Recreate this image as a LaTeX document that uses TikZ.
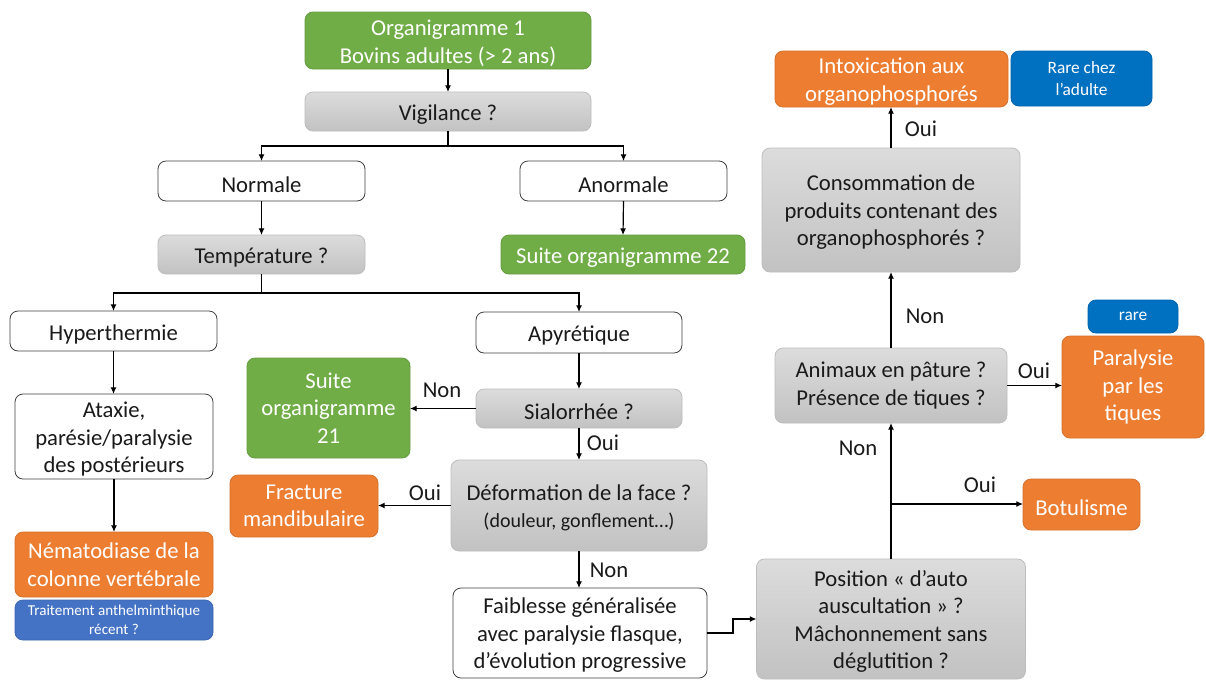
\documentclass[tikz,border=0pt]{standalone}
\usepackage{fontspec}
\setmainfont{Carlito}
\usetikzlibrary{arrows.meta}

\definecolor{cvert}{HTML}{70AD47}
\definecolor{corange}{HTML}{ED7D31}
\definecolor{cbleu}{HTML}{4472C4}
\definecolor{cbleuvif}{HTML}{0070C0}
\definecolor{gTop}{HTML}{DCDCDC}
\definecolor{gBot}{HTML}{C2C2C2}
\definecolor{gBrd}{HTML}{BDBDBD}
\definecolor{wBrd}{HTML}{404040}
\definecolor{txt}{HTML}{1A1A1A}

\newcommand\mainsz{\fontsize{17}{20.6}\selectfont}
\newcommand\smallsz{\fontsize{15}{18}\selectfont}
\newcommand\tinysz{\fontsize{11.3}{14}\selectfont}
\newcommand\notesz{\fontsize{13}{16}\selectfont}
% taller first line, so that the text block sits a little lower in its box
\newcommand\fstrut{\rule{0pt}{15.6pt}}

\begin{document}
\begin{tikzpicture}[x=0.75pt,y=-0.75pt,
  base/.style={rounded corners=6pt, inner sep=0pt, outer sep=0pt, align=center, font=\mainsz, line width=0.6pt},
  lift/.style={execute at begin node={\rule{0pt}{16.8pt}}},
  sz/.style 2 args={minimum width=#1*0.75pt, minimum height=#2*0.75pt},
  wbox/.style={base, lift, draw=wBrd, fill=white, text=txt},
  gbox/.style={base, lift, draw=gBrd, top color=gTop, bottom color=gBot, text=txt},
  vbox/.style={base, lift, draw=cvert!90!black, fill=cvert, text=white},
  obox/.style={base, lift, draw=corange!90!black, fill=corange, text=white},
  bbox/.style={base, draw=cbleu!90!black, fill=cbleu, text=white, font=\tinysz},
  bvbox/.style={base, draw=cbleuvif!90!black, fill=cbleuvif, text=white, font=\notesz},
  ln/.style={line width=0.9pt, draw=black},
  arr/.style={ln, -{Latex[length=5pt,width=4.5pt]}},
  lbl/.style={font=\mainsz, text=txt, inner sep=0pt}
]
\useasboundingbox[fill=white] (0,0) rectangle (1206,679);

% --- left and centre branches
\node[vbox, sz={286}{57}] (org1) at (448,40.5) {\fstrut Organigramme 1\\Bovins adultes (> 2 ans)};
\node[gbox, sz={286}{39}] (vig) at (448,111.5) {Vigilance ?};
\node[wbox, sz={207}{40}] (normale) at (261.5,181) {Normale};
\node[wbox, sz={207}{40}] (anormale) at (623.5,181) {Anormale};
\node[gbox, sz={207}{39}] (temp) at (261.5,254.5) {Température ?};
\node[vbox, sz={244}{39}] (suite22) at (623,254.5) {Suite organigramme 22};
\node[wbox, sz={207}{40}] (hyper) at (113.5,331) {Hyperthermie};
\node[wbox, sz={206}{41}] (apyr) at (579,332.5) {Apyrétique};
\node[wbox, sz={198}{85}] (ataxie) at (114,436.5) {\fstrut Ataxie,\\parésie/paralysie\\des postérieurs};
\node[obox, sz={198}{65}] (nemato) at (114,564.5) {Nématodiase de la\\colonne vertébrale};
\node[bbox, sz={198}{40}] (trait) at (114,620) {Traitement anthelminthique\\récent ?};
\node[vbox, sz={163}{100}] (suite21) at (328.5,408) {Suite\\organigramme\\21};
\node[gbox, sz={206}{39}] (sial) at (579,408.5) {Sialorrhée ?};
\node[gbox, sz={256}{91}] (defo) at (579,505.5) {\fstrut Déformation de la face ?\\{\smallsz (douleur, gonflement…)}};
\node[obox, sz={148}{62}] (fract) at (304,506) {Fracture\\mandibulaire};
\node[wbox, sz={254}{90}] (faib) at (580,633) {\fstrut Faiblesse généralisée\\avec paralysie flasque,\\d’évolution progressive};

% --- right branch
\node[gbox, sz={269}{120}] (posit) at (891,619) {\fstrut Position « d’auto\\auscultation » ?\\Mâchonnement sans\\déglutition ?};
\node[obox, sz={117}{51}] (botul) at (1081.5,504.5) {Botulisme};
\node[gbox, sz={232}{75}] (anim) at (891,385.5) {Animaux en pâture ?\\Présence de tiques ?};
\node[obox, sz={142}{102}] (para) at (1133,387) {Paralysie\\par les\\tiques};
\node[bvbox, sz={90}{33}] (rare) at (1133,316.5) {rare};
\node[gbox, sz={258}{124}] (conso) at (891,210) {\fstrut Consommation de\\produits contenant des\\organophosphorés ?};
\node[obox, sz={233}{56}] (intox) at (891.5,79) {\fstrut Intoxication aux\\organophosphorés};
\node[bvbox, sz={141}{55}] (rareAd) at (1081.5,78.5) {Rare chez\\l’adulte};

% --- branch labels
\node[lbl] (nonS) at (442,390) {Non};
\node[lbl] (ouiS) at (603,443) {Oui};
\node[lbl] (ouiF) at (425,493) {Oui};
\node[lbl] (nonF) at (609,570) {Non};
\node[lbl] (ouiB) at (980,485) {Oui};
\node[lbl] (nonA) at (858,448) {Non};
\node[lbl] (ouiP) at (1034,371) {Oui};
\node[lbl] (nonC) at (925,316) {Non};
\node[lbl] (ouiI) at (921,129) {Oui};

% --- connectors
\coordinate (j1) at (448,146);
\coordinate (j2) at (261.5,293);
\coordinate (jb) at (891,504);

\draw[arr] (org1.south) -- (vig.north);
\draw[ln] (vig.south) -- (j1);
\draw[arr] (j1) -| (normale.north);
\draw[arr] (j1) -| (anormale.north);
\draw[arr] (normale.south) -- (temp.north);
\draw[arr] (anormale.south) -- (suite22.north);
\draw[ln] (temp.south) -- (j2);
\draw[arr] (j2) -| (hyper.north);
\draw[arr] (j2) -| (apyr.north);
\draw[arr] (hyper.south) -- (hyper.south |- ataxie.north);
\draw[arr] (ataxie.south) -- (nemato.north);
\draw[arr] (apyr.south) -- (sial.north);
\draw[arr] (sial.west) -- (sial.west -| suite21.east);
\draw[arr] (sial.south) -- (defo.north);
\draw[arr] (defo.west) -- (defo.west -| fract.east);
\draw[arr] (defo.south) -- (defo.south |- faib.north);
\draw[arr] (faib.east) -- ++(26,0) |- (posit.west);
\draw[arr] (posit.north) -- (anim.south);
\draw[arr] (jb) -- (jb -| botul.west);
\draw[arr] (anim.east) -- (anim.east -| para.west);
\draw[arr] (anim.north) -- (conso.south);
\draw[arr] (conso.north) -- (conso.north |- intox.south);
\end{tikzpicture}
\end{document}
